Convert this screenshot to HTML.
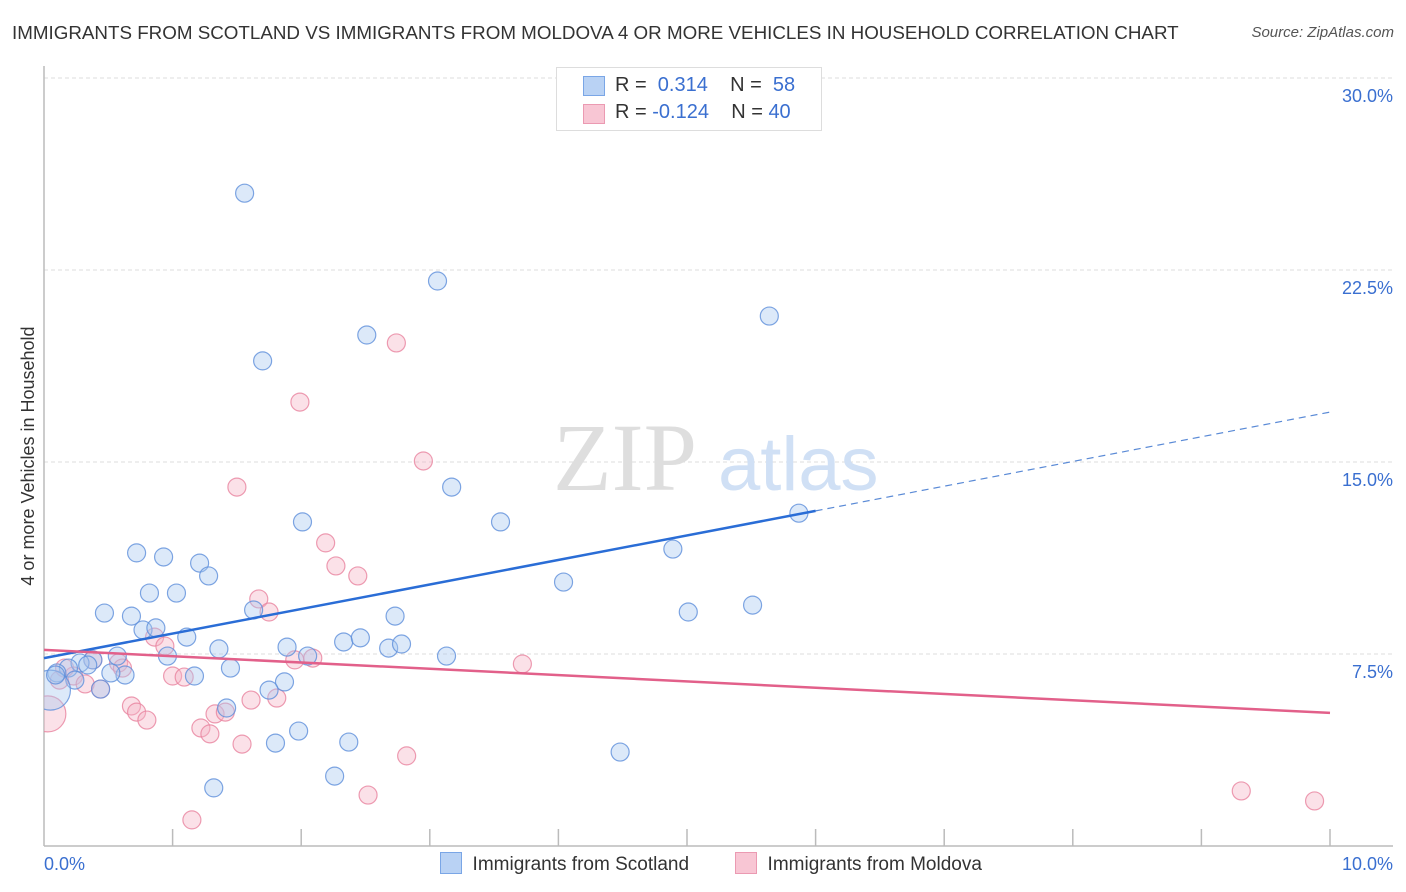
<!DOCTYPE html>
<html><head><meta charset="utf-8"><style>
body{margin:0;background:#fff;font-family:"Liberation Sans",sans-serif;}
#wrap{position:relative;width:1406px;height:892px;overflow:hidden;}
.t{position:absolute;white-space:nowrap;}
</style></head><body>
<div id="wrap">
<div class="t" style="left:12px;top:22px;font-size:18.8px;color:#333;">IMMIGRANTS FROM SCOTLAND VS IMMIGRANTS FROM MOLDOVA 4 OR MORE VEHICLES IN HOUSEHOLD CORRELATION CHART</div>
<div class="t" style="right:12px;top:24px;font-size:15px;color:#555;font-style:italic;">Source: ZipAtlas.com</div>
<svg id="svg" width="1406" height="892" style="position:absolute;left:0;top:0">
<defs><clipPath id="pc"><rect x="44" y="60" width="1360" height="786"/></clipPath></defs>
</svg>
</div>
<script>
const xTicks=[0,1,2,3,4,5,6,7,8,9,10];
const yTicks=[7.5,15,22.5,30];
const yTickLabels=["7.5%","15.0%","22.5%","30.0%"];
const scotX=[1.56,3.06,5.64,2.51,1.70,3.17,2.01,3.55,5.87,0.72,0.93,1.21,1.28,4.89,4.04,0.82,1.03,0.47,0.68,1.63,2.73,5.01,5.51,0.77,0.87,1.11,1.36,1.89,2.33,2.46,2.68,2.78,0.96,0.57,2.05,3.13,1.45,1.17,0.63,0.52,0.38,0.28,0.19,0.10,0.24,0.44,1.87,1.75,1.42,1.98,1.80,2.37,4.48,2.26,1.32,0.05,0.34,0.09];
const scotY=[25.5,22.07,20.7,19.96,18.95,14.02,12.66,12.66,13.0,11.45,11.29,11.05,10.55,11.6,10.31,9.88,9.88,9.10,8.98,9.22,8.98,9.14,9.41,8.44,8.52,8.16,7.70,7.77,7.97,8.13,7.73,7.89,7.42,7.42,7.42,7.42,6.95,6.64,6.68,6.76,7.27,7.15,6.95,6.76,6.48,6.13,6.41,6.09,5.39,4.49,4.02,4.06,3.67,2.73,2.27,6.09,7.07,6.68];
const scotR=[9,9,9,9,9,9,9,9,9,9,9,9,9,9,9,9,9,9,9,9,9,9,9,9,9,9,9,9,9,9,9,9,9,9,9,9,9,9,9,9,9,9,9,9,9,9,9,9,9,9,9,9,9,9,9,20,9,9];
const molX=[2.74,1.99,2.95,1.50,2.19,2.27,2.44,1.67,1.75,0.86,0.94,0.58,0.61,0.38,0.23,0.32,0.44,1.00,1.09,1.95,2.09,3.72,0.68,0.72,0.80,1.61,1.81,1.33,1.41,1.22,1.29,1.54,2.82,2.52,1.15,9.31,9.88,0.03,0.12,0.16];
const molY=[19.65,17.34,15.04,14.02,11.84,10.94,10.55,9.65,9.14,8.16,7.81,7.15,6.95,7.27,6.64,6.33,6.13,6.64,6.60,7.27,7.34,7.11,5.47,5.23,4.92,5.70,5.78,5.16,5.23,4.61,4.38,3.98,3.52,1.99,1.02,2.15,1.76,5.16,6.48,6.95];
const molR=[9,9,9,9,9,9,9,9,9,9,9,9,9,9,9,9,9,9,9,9,9,9,9,9,9,9,9,9,9,9,9,9,9,9,9,9,9,18,9,9];
const scotTrend=[7.34,13.09,16.95]; // at x=0, 6, 10
const molTrend=[7.66,5.2]; // at x=0, 10

const NS="http://www.w3.org/2000/svg";
const svg=document.getElementById('svg');
const X=v=>44+v*128.6;
const Y=v=>846-v*25.6;
function el(tag,attrs,parent){const e=document.createElementNS(NS,tag);for(const k in attrs)e.setAttribute(k,attrs[k]);(parent||svg).appendChild(e);return e;}

yTicks.forEach((t,i)=>{
  const g=el('line',{x1:44,x2:1393,y1:Y(t),y2:Y(t),stroke:'#ddd','stroke-dasharray':'4,3','stroke-width':1});
  
  
  const tx=el('text',{x:1393,y:Y(t)+24,'text-anchor':'end',fill:'#3a6fd0','font-size':18,'font-family':'Liberation Sans, sans-serif'});
  tx.textContent=yTickLabels[i];
  
  
});
const ya=el('line',{x1:44,x2:44,y1:66,y2:846,stroke:'#bbb','stroke-width':1.5});


const xa=el('line',{x1:44,x2:1393,y1:846,y2:846,stroke:'#bbb','stroke-width':1.5});


xTicks.forEach(t=>{
  if(t===0)return;
  const l=el('line',{x1:X(t),x2:X(t),y1:829,y2:846,stroke:'#bbb','stroke-width':1.5});
  
  
});
const x0=el('text',{x:44,y:870,fill:'#3a6fd0','font-size':18,'font-family':'Liberation Sans, sans-serif'});x0.textContent='0.0%';


const x1=el('text',{x:1393,y:870,'text-anchor':'end',fill:'#3a6fd0','font-size':18,'font-family':'Liberation Sans, sans-serif'});x1.textContent='10.0%';


const yt=el('text',{x:0,y:0,transform:'translate(34,456) rotate(-90)','text-anchor':'middle',fill:'#333','font-size':18,'font-family':'Liberation Sans, sans-serif'});yt.textContent='4 or more Vehicles in Household';


const wm=el('text',{x:553,y:490,fill:'#dedede','font-size':96,'font-family':'Liberation Serif, serif'});wm.textContent='ZIP';


const wm2=el('text',{x:718,y:490,fill:'#d0e0f5','font-size':76,'font-family':'Liberation Sans, sans-serif'});wm2.textContent='atlas';



const gp=el('g',{'clip-path':'url(#pc)'});
function pts(xs,ys,rs,fill,stroke,name){
  xs.forEach((v,i)=>{
    const c=el('circle',{cx:X(v),cy:Y(ys[i]),r:rs[i],fill:fill,'fill-opacity':0.4,stroke:stroke,'stroke-width':1.2,'stroke-opacity':0.8},gp);
    
    
  });
}
pts(molX,molY,molR,'#f5b3c6','#e8839f','moldova-point');
pts(scotX,scotY,scotR,'#a8c7f0','#5e8fdb','scotland-point');

const bl=el('line',{x1:X(0),y1:Y(scotTrend[0]),x2:X(6),y2:Y(scotTrend[1]),stroke:'#2a6dd6','stroke-width':2.5});


const bd=el('line',{x1:X(6),y1:Y(scotTrend[1]),x2:X(10),y2:Y(scotTrend[2]),stroke:'#5a8ad6','stroke-width':1.2,'stroke-dasharray':'7,5'});


const pl=el('line',{x1:X(0),y1:Y(molTrend[0]),x2:X(10),y2:Y(molTrend[1]),stroke:'#e2608a','stroke-width':2.5});


</script>
<div style="position:absolute;left:556px;top:67px;width:264px;height:62px;border:1px solid #ddd;background:#fff;font-size:20px;color:#333;">
 <div style="position:absolute;left:26px;top:8px;width:20px;height:18px;background:#b9d2f4;border:1px solid #7aa6e6;"></div>
 <div class="t" style="left:58px;top:6px;">R = &nbsp;<span style="color:#3a6fd0">0.314</span>&nbsp;&nbsp;&nbsp; N = &nbsp;<span style="color:#3a6fd0">58</span></div>
 <div style="position:absolute;left:26px;top:36px;width:20px;height:18px;background:#f8c6d4;border:1px solid #eb9ab2;"></div>
 <div class="t" style="left:58px;top:33px;">R = <span style="color:#3a6fd0">-0.124</span>&nbsp;&nbsp;&nbsp; N = <span style="color:#3a6fd0">40</span></div>
</div>
<div style="position:absolute;top:852px;left:440px;font-size:19px;color:#333;">
 <div style="position:absolute;left:0;top:0;white-space:nowrap;"><span style="display:inline-block;width:20px;height:20px;background:#b9d2f4;border:1px solid #7aa6e6;vertical-align:-4px;"></span>&nbsp; Immigrants from Scotland</div>
 <div style="position:absolute;left:295px;top:0;white-space:nowrap;"><span style="display:inline-block;width:20px;height:20px;background:#f8c6d4;border:1px solid #eb9ab2;vertical-align:-4px;"></span>&nbsp; Immigrants from Moldova</div>
</div>
</body></html>
